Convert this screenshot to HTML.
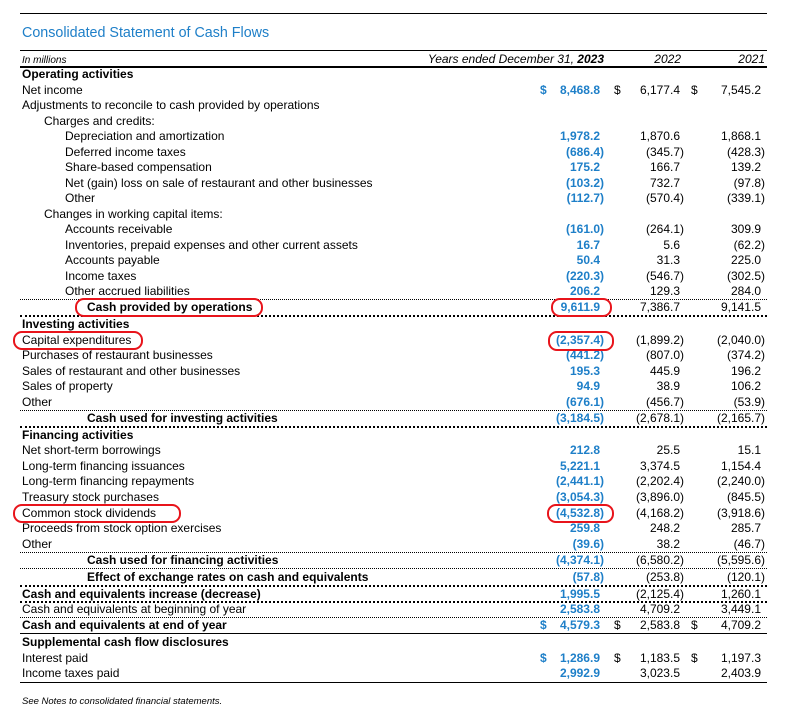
<!DOCTYPE html>
<html><head><meta charset="utf-8"><style>
body{margin:0;width:788px;height:722px;background:#fff;position:relative;font-family:"Liberation Sans",Arial,sans-serif;color:#000;overflow:hidden}
.r{position:absolute;left:0;width:788px;height:16px;line-height:17px;font-size:12px}
.l{position:absolute;left:22px;white-space:nowrap}
.i1{left:44px}.i2{left:65px}.i3{left:87px}
.bd{font-weight:bold}
.a,.b,.c{position:absolute;white-space:nowrap}
.a{right:184px;color:#1e7fc8;font-weight:bold}
.b{right:104px}.c{right:23px}
.h{visibility:hidden;font-style:normal}
.d{position:absolute}
.da{left:540px;color:#1e7fc8;font-weight:bold}.db{left:614px}.dc{left:691px}
.ln{position:absolute;left:20px;width:747px}
.dot{border-top:1px dotted #000;height:0}
.dot2{border-top:2px dotted #000;height:0}
.sol{border-top:1px solid #000;height:0}
.ov{position:absolute;border:2.5px solid #e8141b;border-radius:9px;box-sizing:border-box}
</style></head><body>
<div class="ln sol" style="top:13px"></div>
<div style="position:absolute;left:22px;top:25px;font-size:14.3px;color:#1e7fc8">Consolidated Statement of Cash Flows</div>
<div class="ln sol" style="top:50px"></div>
<div class="r" style="top:52px;font-style:italic;font-size:10px"><span class="l">In millions</span></div>
<div class="r" style="top:51px;font-style:italic"><span class="b" style="right:184px">Years ended December 31, <b>2023</b></span><span class="b" style="right:107px">2022</span><span class="c">2021</span></div>
<div class="ln" style="top:66px;border-top:2px solid #000"></div>

<div class="r" style="top:66px"><span class="l bd">Operating activities</span></div>
<div class="r" style="top:82px"><span class="l">Net income</span><span class="d da">$</span><span class="a">8,468.8<i class="h">)</i></span><span class="d db">$</span><span class="b">6,177.4<i class="h">)</i></span><span class="d dc">$</span><span class="c">7,545.2<i class="h">)</i></span></div>
<div class="r" style="top:97px"><span class="l">Adjustments to reconcile to cash provided by operations</span></div>
<div class="r" style="top:113px"><span class="l i1">Charges and credits:</span></div>
<div class="r" style="top:128px"><span class="l i2">Depreciation and amortization</span><span class="a">1,978.2<i class="h">)</i></span><span class="b">1,870.6<i class="h">)</i></span><span class="c">1,868.1<i class="h">)</i></span></div>
<div class="r" style="top:144px"><span class="l i2">Deferred income taxes</span><span class="a">(686.4)</span><span class="b">(345.7)</span><span class="c">(428.3)</span></div>
<div class="r" style="top:159px"><span class="l i2">Share-based compensation</span><span class="a">175.2<i class="h">)</i></span><span class="b">166.7<i class="h">)</i></span><span class="c">139.2<i class="h">)</i></span></div>
<div class="r" style="top:175px"><span class="l i2">Net (gain) loss on sale of restaurant and other businesses</span><span class="a">(103.2)</span><span class="b">732.7<i class="h">)</i></span><span class="c">(97.8)</span></div>
<div class="r" style="top:190px"><span class="l i2">Other</span><span class="a">(112.7)</span><span class="b">(570.4)</span><span class="c">(339.1)</span></div>
<div class="r" style="top:206px"><span class="l i1">Changes in working capital items:</span></div>
<div class="r" style="top:221px"><span class="l i2">Accounts receivable</span><span class="a">(161.0)</span><span class="b">(264.1)</span><span class="c">309.9<i class="h">)</i></span></div>
<div class="r" style="top:237px"><span class="l i2">Inventories, prepaid expenses and other current assets</span><span class="a">16.7<i class="h">)</i></span><span class="b">5.6<i class="h">)</i></span><span class="c">(62.2)</span></div>
<div class="r" style="top:252px"><span class="l i2">Accounts payable</span><span class="a">50.4<i class="h">)</i></span><span class="b">31.3<i class="h">)</i></span><span class="c">225.0<i class="h">)</i></span></div>
<div class="r" style="top:268px"><span class="l i2">Income taxes</span><span class="a">(220.3)</span><span class="b">(546.7)</span><span class="c">(302.5)</span></div>
<div class="r" style="top:283px"><span class="l i2">Other accrued liabilities</span><span class="a">206.2<i class="h">)</i></span><span class="b">129.3<i class="h">)</i></span><span class="c">284.0<i class="h">)</i></span></div>
<div class="ln dot" style="top:299px"></div>
<div class="r" style="top:299px"><span class="l i3 bd">Cash provided by operations</span><span class="a">9,611.9<i class="h">)</i></span><span class="b">7,386.7<i class="h">)</i></span><span class="c">9,141.5<i class="h">)</i></span></div>
<div class="ln dot2" style="top:315px"></div>
<div class="r" style="top:316px"><span class="l bd">Investing activities</span></div>
<div class="r" style="top:332px"><span class="l">Capital expenditures</span><span class="a">(2,357.4)</span><span class="b">(1,899.2)</span><span class="c">(2,040.0)</span></div>
<div class="r" style="top:347px"><span class="l">Purchases of restaurant businesses</span><span class="a">(441.2)</span><span class="b">(807.0)</span><span class="c">(374.2)</span></div>
<div class="r" style="top:363px"><span class="l">Sales of restaurant and other businesses</span><span class="a">195.3<i class="h">)</i></span><span class="b">445.9<i class="h">)</i></span><span class="c">196.2<i class="h">)</i></span></div>
<div class="r" style="top:378px"><span class="l">Sales of property</span><span class="a">94.9<i class="h">)</i></span><span class="b">38.9<i class="h">)</i></span><span class="c">106.2<i class="h">)</i></span></div>
<div class="r" style="top:394px"><span class="l">Other</span><span class="a">(676.1)</span><span class="b">(456.7)</span><span class="c">(53.9)</span></div>
<div class="ln dot" style="top:410px"></div>
<div class="r" style="top:410px"><span class="l i3 bd">Cash used for investing activities</span><span class="a">(3,184.5)</span><span class="b">(2,678.1)</span><span class="c">(2,165.7)</span></div>
<div class="ln dot2" style="top:426px"></div>
<div class="r" style="top:427px"><span class="l bd">Financing activities</span></div>
<div class="r" style="top:442px"><span class="l">Net short-term borrowings</span><span class="a">212.8<i class="h">)</i></span><span class="b">25.5<i class="h">)</i></span><span class="c">15.1<i class="h">)</i></span></div>
<div class="r" style="top:458px"><span class="l">Long-term financing issuances</span><span class="a">5,221.1<i class="h">)</i></span><span class="b">3,374.5<i class="h">)</i></span><span class="c">1,154.4<i class="h">)</i></span></div>
<div class="r" style="top:473px"><span class="l">Long-term financing repayments</span><span class="a">(2,441.1)</span><span class="b">(2,202.4)</span><span class="c">(2,240.0)</span></div>
<div class="r" style="top:489px"><span class="l">Treasury stock purchases</span><span class="a">(3,054.3)</span><span class="b">(3,896.0)</span><span class="c">(845.5)</span></div>
<div class="r" style="top:505px"><span class="l">Common stock dividends</span><span class="a">(4,532.8)</span><span class="b">(4,168.2)</span><span class="c">(3,918.6)</span></div>
<div class="r" style="top:520px"><span class="l">Proceeds from stock option exercises</span><span class="a">259.8<i class="h">)</i></span><span class="b">248.2<i class="h">)</i></span><span class="c">285.7<i class="h">)</i></span></div>
<div class="r" style="top:536px"><span class="l">Other</span><span class="a">(39.6)</span><span class="b">38.2<i class="h">)</i></span><span class="c">(46.7)</span></div>
<div class="ln dot" style="top:552px"></div>
<div class="r" style="top:552px"><span class="l i3 bd">Cash used for financing activities</span><span class="a">(4,374.1)</span><span class="b">(6,580.2)</span><span class="c">(5,595.6)</span></div>
<div class="ln dot" style="top:568px"></div>
<div class="r" style="top:569px"><span class="l i3 bd">Effect of exchange rates on cash and equivalents</span><span class="a">(57.8)</span><span class="b">(253.8)</span><span class="c">(120.1)</span></div>
<div class="ln dot2" style="top:585px"></div>
<div class="r" style="top:586px"><span class="l bd">Cash and equivalents increase (decrease)</span><span class="a">1,995.5<i class="h">)</i></span><span class="b">(2,125.4)</span><span class="c">1,260.1<i class="h">)</i></span></div>
<div class="ln dot2" style="top:601px"></div>
<div class="r" style="top:601px"><span class="l">Cash and equivalents at beginning of year</span><span class="a">2,583.8<i class="h">)</i></span><span class="b">4,709.2<i class="h">)</i></span><span class="c">3,449.1<i class="h">)</i></span></div>
<div class="ln dot" style="top:617px"></div>
<div class="r" style="top:617px"><span class="l bd">Cash and equivalents at end of year</span><span class="d da">$</span><span class="a">4,579.3<i class="h">)</i></span><span class="d db">$</span><span class="b">2,583.8<i class="h">)</i></span><span class="d dc">$</span><span class="c">4,709.2<i class="h">)</i></span></div>
<div class="ln sol" style="top:633px"></div>
<div class="r" style="top:634px"><span class="l bd">Supplemental cash flow disclosures</span></div>
<div class="r" style="top:650px"><span class="l">Interest paid</span><span class="d da">$</span><span class="a">1,286.9<i class="h">)</i></span><span class="d db">$</span><span class="b">1,183.5<i class="h">)</i></span><span class="d dc">$</span><span class="c">1,197.3<i class="h">)</i></span></div>
<div class="r" style="top:665px"><span class="l">Income taxes paid</span><span class="a">2,992.9<i class="h">)</i></span><span class="b">3,023.5<i class="h">)</i></span><span class="c">2,403.9<i class="h">)</i></span></div>
<div class="ln" style="top:682px;border-top:1.5px solid #000"></div>
<div style="position:absolute;left:22px;top:696px;font-size:9.5px;font-style:italic">See Notes to consolidated financial statements.</div>

<div class="ov" style="left:75px;top:298px;width:188px;height:19px"></div>
<div class="ov" style="left:551px;top:298px;width:61px;height:19px"></div>
<div class="ov" style="left:13px;top:331px;width:130px;height:19px"></div>
<div class="ov" style="left:548px;top:331px;width:66px;height:20px"></div>
<div class="ov" style="left:13px;top:504px;width:168px;height:19px"></div>
<div class="ov" style="left:547px;top:504px;width:67px;height:19px"></div>
</body></html>
